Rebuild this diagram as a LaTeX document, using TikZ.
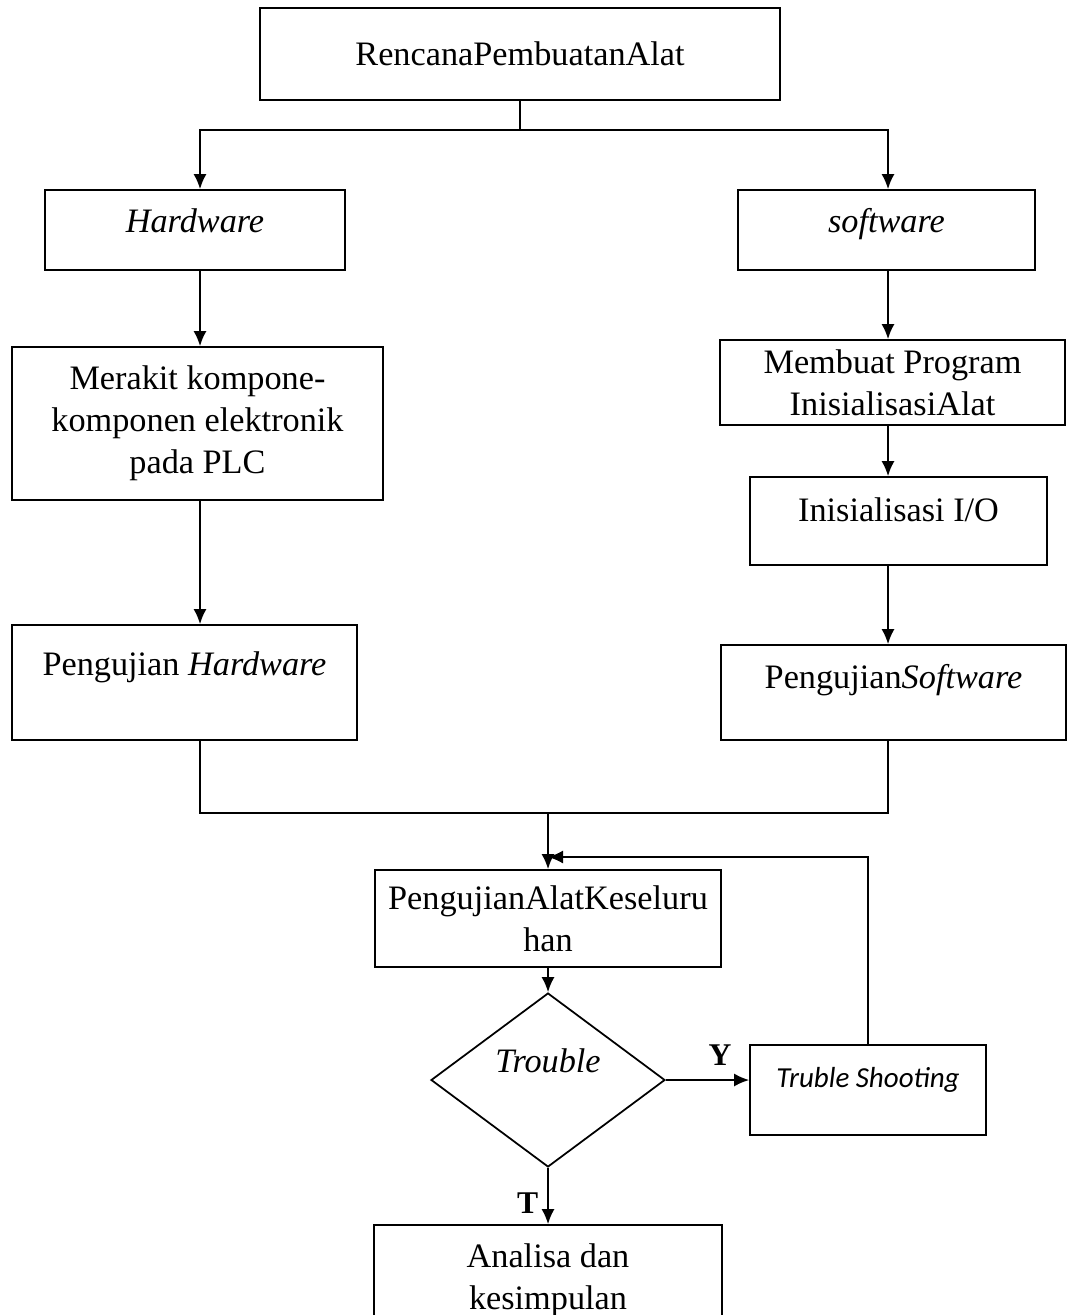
\documentclass[tikz,border=0pt]{standalone}
\usepackage{fontspec}
\setmainfont{Liberation Serif}
\newfontfamily\calibri{Carlito}
\usetikzlibrary{shapes, arrows.meta}
\usetikzlibrary{positioning}

\begin{document}
\begin{tikzpicture}[x=0.02cm, y=-0.02cm, line width=1pt,
        >={Latex[length=0.3cm, width=0.26cm]},
        kotak/.style={draw, inner sep=0pt, align=center, font=\fontsize{19.5}{24}\selectfont},
        belah/.style={draw, diamond, inner sep=0pt, font=\fontsize{19.5}{24}\selectfont},
        tanda/.style={font=\fontsize{18}{20}\selectfont\bfseries, inner sep=2pt}]

        \useasboundingbox (0,0) rectangle (1067,1315);
        \clip (0,0) rectangle (1067,1315);

        % kotak proses
        \node[kotak, minimum width=10.4cm, minimum height=1.84cm] (rencana) at (520,54) {RencanaPembuatanAlat};
        \node[kotak, minimum width=6cm, text height=0.84cm, text depth=0.76cm] (hw) at (195,230) {\textit{Hardware}};
        \node[kotak, minimum width=5.94cm, text height=0.84cm, text depth=0.76cm] (sw) at (886.5,230) {\textit{software}};
        \node[kotak, minimum width=7.42cm, minimum height=3.06cm] (rakit) at (197.5,423.5) {Merakit kompone-\\komponen elektronik\\pada PLC};
        \node[kotak, minimum width=6.9cm, text height=1cm, text depth=1.3cm] (ujihw) at (184.5,682.5) {Pengujian \textit{Hardware}};
        \node[kotak, minimum width=6.9cm, minimum height=1.7cm] (program) at (892.5,382.5) {Membuat Program\\InisialisasiAlat};
        \node[kotak, minimum width=5.94cm, text height=0.88cm, text depth=0.88cm] (inisial) at (898.5,521) {Inisialisasi I/O};
        \node[kotak, minimum width=6.9cm, text height=0.86cm, text depth=1.04cm] (ujisw) at (893.5,692.5) {Pengujian\textit{Software}};
        \node[kotak, minimum width=6.92cm, minimum height=1.94cm] (ujialat) at (548,918.5) {PengujianAlatKeseluru\\han};
        \node[belah, minimum width=4.68cm, minimum height=3.48cm, text height=0.5cm, text depth=0.82cm] (trouble) at (548,1080) {\textit{Trouble}};
        \node[kotak, font={\calibri\fontsize{16.5}{20}\selectfont\itshape}, minimum width=4.72cm, text height=0.84cm, text depth=0.96cm] (shoot) at (868,1090) {Truble Shooting};
        \node[kotak, minimum width=6.96cm, minimum height=2.2cm] (analisa) at (548,1280) {Analisa dan\\kesimpulan};

        % titik bantu
        \coordinate (kiri) at (200,130);
        \coordinate (kanan) at (888,130);
        \coordinate (gabung) at (548,813);
        \coordinate (balik) at (548,857);

        % garis
        \draw (rencana.south) -- (rencana.south |- kiri);
        \draw[<->] (hw.north -| kiri) |- (kanan) -- (sw.north -| kanan);
        \draw[->] (hw.south -| kiri) -- (rakit.north -| kiri);
        \draw[->] (rakit.south -| kiri) -- (ujihw.north -| kiri);
        \draw[->] (sw.south -| kanan) -- (program.north -| kanan);
        \draw[->] (program.south -| kanan) -- (inisial.north -| kanan);
        \draw[->] (inisial.south -| kanan) -- (ujisw.north -| kanan);
        \draw (ujihw.south -| kiri) |- (gabung) -| (ujisw.south -| kanan);
        \draw[->] (gabung) -- (ujialat.north);
        \draw[->] (ujialat.south) -- (trouble.north);
        \draw[->] (trouble.east) -- node[tanda, above=6pt, pos=0.65] {Y} (trouble.east -| shoot.west);
        \draw[->] (trouble.south) -- node[tanda, left=3pt, pos=0.62] {T} (analisa.north);
        \draw[->] (shoot.north) |- (balik);

\end{tikzpicture}
\end{document}
